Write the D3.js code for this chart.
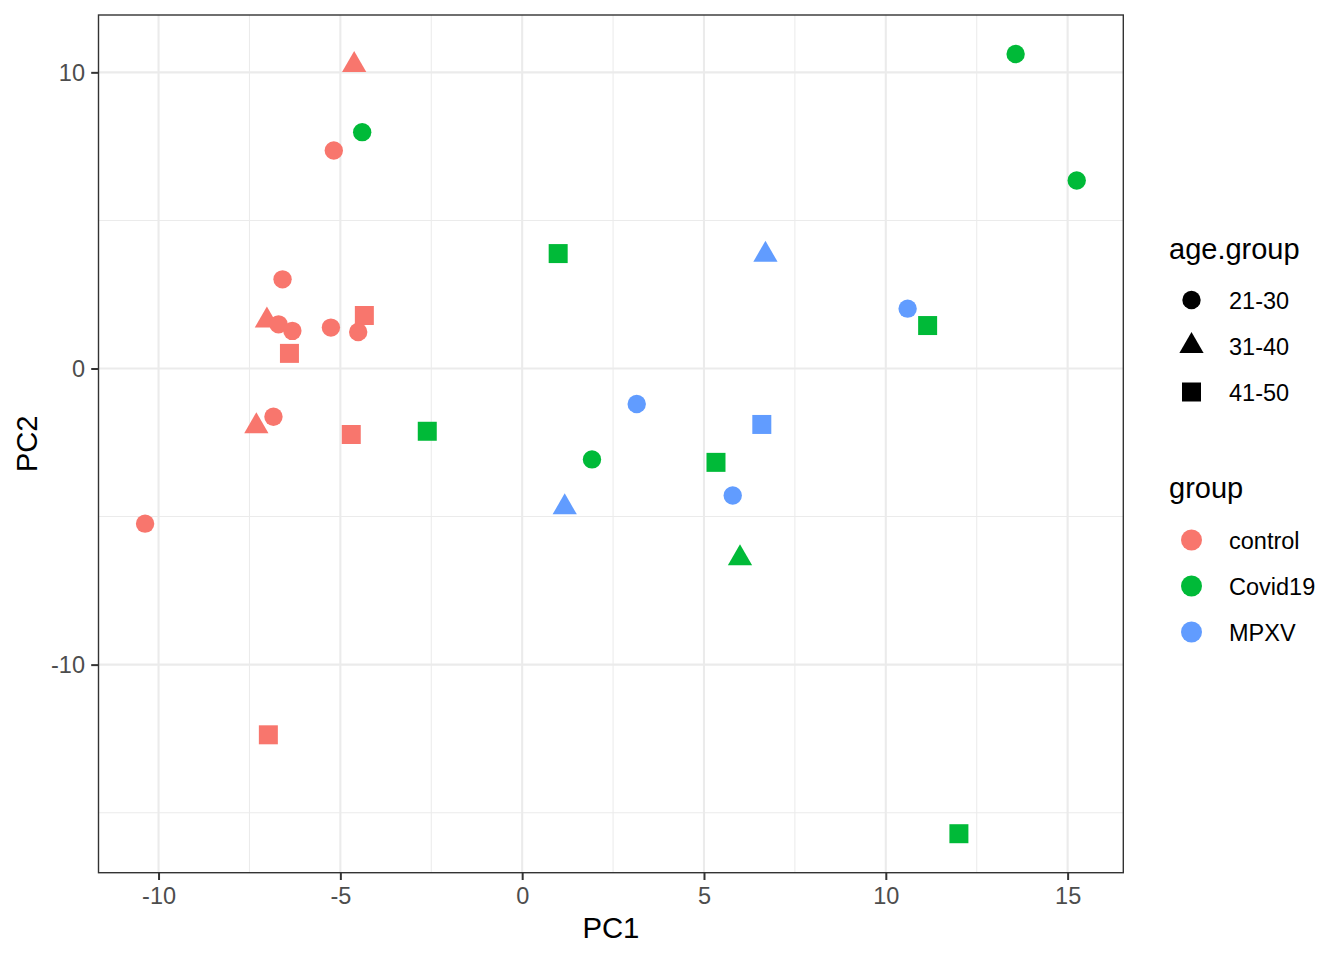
<!DOCTYPE html>
<html>
<head>
<meta charset="utf-8">
<script src="https://cdn.jsdelivr.net/npm/d3@7"></script>
<style>
  body { margin: 0; background: #fff; }
  text { font-family: 'Liberation Sans', Arial, sans-serif; }
</style>
</head>
<body>
<div id="chart"></div>
<script>
// sample scores on the first two principal components
const pc1 = [
  -4.62, -5.18, -6.59, -7.02, -6.70, -6.32, -5.26, -4.34, -4.51, -6.40, -7.31, -6.84, -4.70, -10.37, -6.98,
  13.57, 15.25, -4.40, 0.99, 11.15, -2.61, 1.92, 5.33, 5.99, 12.01,
  6.69, 10.60, 3.15, 6.59, 5.79, 1.17
];
const pc2 = [
  10.25, 7.36, 3.01, 1.62, 1.49, 1.27, 1.38, 1.79, 1.23, 0.51, -1.95, -1.63, -2.23, -5.24, -12.37,
  10.62, 6.35, 7.98, 3.88, 1.45, -2.12, -3.07, -3.17, -6.41, -15.71,
  3.84, 2.02, -1.20, -1.89, -4.29, -4.69
];
const group = [
  'control', 'control', 'control', 'control', 'control', 'control', 'control', 'control',
  'control', 'control', 'control', 'control', 'control', 'control', 'control',
  'Covid19', 'Covid19', 'Covid19', 'Covid19', 'Covid19', 'Covid19', 'Covid19', 'Covid19', 'Covid19', 'Covid19',
  'MPXV', 'MPXV', 'MPXV', 'MPXV', 'MPXV', 'MPXV'
];
const ageGroup = [
  '31-40', '21-30', '21-30', '31-40', '21-30', '21-30', '21-30', '41-50', '21-30', '41-50', '31-40', '21-30', '41-50', '21-30', '41-50',
  '21-30', '21-30', '21-30', '41-50', '41-50', '41-50', '21-30', '41-50', '31-40', '41-50',
  '31-40', '21-30', '21-30', '41-50', '21-30', '31-40'
];

const groupLevels = ['control', 'Covid19', 'MPXV'];
const groupColors = ['#F8766D', '#00BA38', '#619CFF'];
const ageLevels = ['21-30', '31-40', '41-50'];
const ageShapes = ['circle', 'triangle', 'square'];

const xMajor = [-10, -5, 0, 5, 10, 15];
const xMinor = [-7.5, -2.5, 2.5, 7.5, 12.5];
const yMajor = [-10, 0, 10];
const yMinor = [-15, -5, 5];

class PcaPlot {
  constructor() {
    this.width = 1344;
    this.height = 960;
    this.panel = { left: 98.5, top: 15, right: 1123.3, bottom: 872.7 };

    this.points = pc1.map((d, i) => ({ x: d, y: pc2[i], group: group[i], age: ageGroup[i] }));

    this.xScale = d3.scaleLinear()
      .domain(this.expand(d3.extent(pc1)))
      .range([this.panel.left, this.panel.right]);

    this.yScale = d3.scaleLinear()
      .domain(this.expand(d3.extent(pc2)))
      .range([this.panel.bottom, this.panel.top]);

    this.color = d3.scaleOrdinal().domain(groupLevels).range(groupColors);
    this.shape = d3.scaleOrdinal().domain(ageLevels).range(ageShapes);
  }

  /**
   * ggplot style 5% padding of a continuous range.
   */
  expand(ext) {
    let pad = (ext[1] - ext[0]) * 0.05;
    return [ext[0] - pad, ext[1] + pad];
  }

  /**
   * Path for a marker, sizes taken from the R point glyphs.
   */
  markerPath(shape, big) {
    if (shape === 'circle') {
      let r = big ? 10.5 : 9.2;
      return `M${-r},0A${r},${r} 0 1,0 ${r},0A${r},${r} 0 1,0 ${-r},0Z`;
    }
    if (shape === 'square') {
      let h = 9.5;
      return `M${-h},${-h}H${h}V${h}H${-h}Z`;
    }
    let r = 14;
    let xc = r * Math.sqrt(3) / 2;
    return `M0,${-r}L${xc},${r / 2}L${-xc},${r / 2}Z`;
  }

  draw() {
    this.svg = d3.select('#chart').append('svg')
      .attr('width', this.width)
      .attr('height', this.height);

    this.drawPanel();
    this.drawPoints();
    this.drawAxes();
    this.drawLegends();
  }

  drawPanel() {
    let p = this.panel;
    let grid = this.svg.append('g').attr('id', 'grid');

    grid.selectAll('.xminor').data(xMinor).enter()
      .append('line')
      .attr('x1', d => this.xScale(d)).attr('x2', d => this.xScale(d))
      .attr('y1', p.top).attr('y2', p.bottom)
      .attr('stroke', '#EBEBEB').attr('stroke-width', 1.05);

    grid.selectAll('.yminor').data(yMinor).enter()
      .append('line')
      .attr('y1', d => this.yScale(d)).attr('y2', d => this.yScale(d))
      .attr('x1', p.left).attr('x2', p.right)
      .attr('stroke', '#EBEBEB').attr('stroke-width', 1.05);

    grid.selectAll('.xmajor').data(xMajor).enter()
      .append('line')
      .attr('x1', d => this.xScale(d)).attr('x2', d => this.xScale(d))
      .attr('y1', p.top).attr('y2', p.bottom)
      .attr('stroke', '#EBEBEB').attr('stroke-width', 2.1);

    grid.selectAll('.ymajor').data(yMajor).enter()
      .append('line')
      .attr('y1', d => this.yScale(d)).attr('y2', d => this.yScale(d))
      .attr('x1', p.left).attr('x2', p.right)
      .attr('stroke', '#EBEBEB').attr('stroke-width', 2.1);
  }

  drawPoints() {
    this.svg.append('g')
      .attr('id', 'points')
      .selectAll('path')
      .data(this.points)
      .enter()
      .append('path')
      .attr('transform', d => `translate(${this.xScale(d.x)},${this.yScale(d.y)})`)
      .attr('d', d => this.markerPath(this.shape(d.age), false))
      .attr('fill', d => this.color(d.group));

    let p = this.panel;
    this.svg.append('rect')
      .attr('x', p.left)
      .attr('y', p.top)
      .attr('width', p.right - p.left)
      .attr('height', p.bottom - p.top)
      .attr('fill', 'none')
      .attr('stroke', '#333333')
      .attr('stroke-width', 1.4);
  }

  drawAxes() {
    let p = this.panel;

    // plain hyphen for negatives, as R prints them
    let plain = d => String(d);

    let xAxis = d3.axisBottom(this.xScale)
      .tickValues(xMajor)
      .tickSize(7.3)
      .tickPadding(6)
      .tickFormat(plain);

    let gx = this.svg.append('g')
      .attr('transform', `translate(0,${p.bottom})`)
      .call(xAxis);

    let yAxis = d3.axisLeft(this.yScale)
      .tickValues(yMajor)
      .tickSize(7.3)
      .tickPadding(6)
      .tickFormat(plain);

    let gy = this.svg.append('g')
      .attr('transform', `translate(${p.left},0)`)
      .call(yAxis);

    [gx, gy].forEach(g => {
      g.select('.domain').remove();
      g.selectAll('.tick line').attr('stroke', '#333333').attr('stroke-width', 2);
      g.selectAll('.tick text')
        .attr('fill', '#4D4D4D')
        .style('font-size', '23.5px')
        .style('font-family', "'Liberation Sans', Arial, sans-serif");
    });
    gx.selectAll('.tick text').attr('dy', null).attr('y', 31);
    gy.selectAll('.tick text').attr('dy', '0.35em').attr('x', -13.5);

    this.svg.append('text')
      .attr('x', (p.left + p.right) / 2)
      .attr('y', 938)
      .attr('text-anchor', 'middle')
      .style('font-size', '29.3px')
      .text('PC1');

    this.svg.append('text')
      .attr('transform', `translate(36.5,${(p.top + p.bottom) / 2}) rotate(-90)`)
      .attr('text-anchor', 'middle')
      .style('font-size', '29.3px')
      .text('PC2');
  }

  drawLegends() {
    let keyX = 1191.5;
    let labelX = 1229;

    let age = this.svg.append('g').attr('id', 'ageLegend');
    age.append('text')
      .attr('x', 1169).attr('y', 259)
      .style('font-size', '29px')
      .text('age.group');

    let ageRows = age.selectAll('.row').data(ageLevels).enter()
      .append('g')
      .attr('transform', (d, i) => `translate(0,${300 + i * 46})`);
    ageRows.append('path')
      .attr('transform', `translate(${keyX},0)`)
      .attr('d', d => this.markerPath(this.shape(d), false))
      .attr('fill', '#000');
    ageRows.append('text')
      .attr('x', labelX).attr('y', 8.5)
      .style('font-size', '23.5px')
      .text(d => d);

    let grp = this.svg.append('g').attr('id', 'groupLegend');
    grp.append('text')
      .attr('x', 1169).attr('y', 498)
      .style('font-size', '29px')
      .text('group');

    let grpRows = grp.selectAll('.row').data(groupLevels).enter()
      .append('g')
      .attr('transform', (d, i) => `translate(0,${540 + i * 46})`);
    grpRows.append('path')
      .attr('transform', `translate(${keyX},0)`)
      .attr('d', this.markerPath('circle', true))
      .attr('fill', d => this.color(d));
    grpRows.append('text')
      .attr('x', labelX).attr('y', 8.5)
      .style('font-size', '23.5px')
      .text(d => d);
  }
}

let plot = new PcaPlot();
plot.draw();
</script>
</body>
</html>
